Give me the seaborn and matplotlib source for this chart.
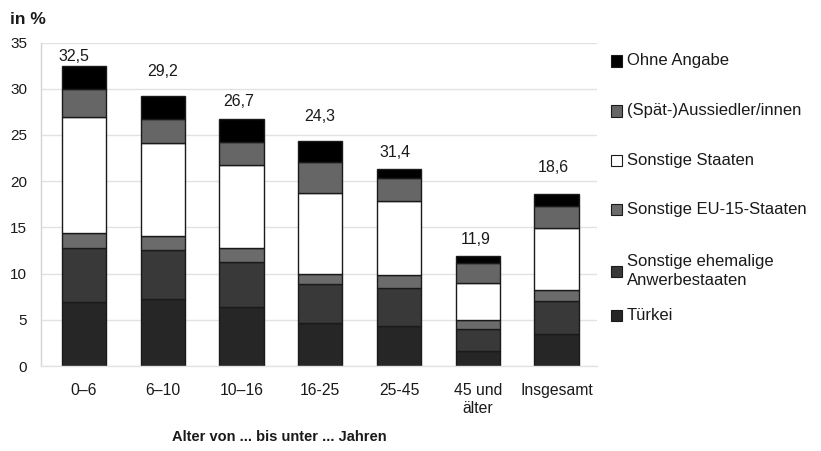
import matplotlib
matplotlib.use("Agg")
import matplotlib.pyplot as plt
from matplotlib.patches import Rectangle
import numpy as np
import seaborn as sns

# Altersgruppen
categories = ["0–6", "6–10", "10–16", "16-25", "25-45", "45 und\nälter", "Insgesamt"]

# Anteile je Herkunftsgruppe in %, von unten nach oben gestapelt
tuerkei = [6.9, 7.2, 6.4, 4.6, 4.3, 1.6, 3.5]
anwerbestaaten = [5.9, 5.3, 4.9, 4.3, 4.1, 2.4, 3.5]
eu15 = [1.6, 1.6, 1.5, 1.1, 1.4, 1.0, 1.2]
sonstige_staaten = [12.5, 10.0, 8.9, 8.7, 8.1, 4.0, 6.7]
spaetaussiedler = [3.1, 2.6, 2.5, 3.4, 2.4, 2.1, 2.4]
ohne_angabe = [2.5, 2.5, 2.5, 2.2, 1.0, 0.8, 1.3]

# Beschriftungen über den Säulen
total_labels = ["32,5", "29,2", "26,7", "24,3", "31,4", "11,9", "18,6"]

series_names = ["Türkei", "Sonstige ehemalige\nAnwerbestaaten", "Sonstige EU-15-Staaten",
                "Sonstige Staaten", "(Spät-)Aussiedler/innen", "Ohne Angabe"]
series_values = [tuerkei, anwerbestaaten, eu15, sonstige_staaten, spaetaussiedler, ohne_angabe]
series_colors = ["#262626", "#393939", "#6b6b6b", "#ffffff", "#666666", "#000000"]

y_ticks = [0, 5, 10, 15, 20, 25, 30, 35]

sns.set_theme(style="white")
plt.rcParams["font.family"] = ["Liberation Sans", "DejaVu Sans"]

W, H = 821, 451
fig = plt.figure(figsize=(W / 100, H / 100), dpi=100)
ax_left, ax_right, ax_bottom, ax_top = 41, 597, 366, 42.5
ax = fig.add_axes([ax_left / W, 1 - ax_bottom / H, (ax_right - ax_left) / W, (ax_bottom - ax_top) / H])

text_col = "#1a1a1a"
edge = "#1a1a1a"
bottom = np.zeros(len(categories))
for name, vals, col in zip(series_names, series_values, series_colors):
    sns.barplot(x=categories, y=vals, order=categories, bottom=bottom, color=col,
                edgecolor=edge, linewidth=1.0, width=0.56, errorbar=None,
                saturation=1, ax=ax)
    bottom = bottom + np.array(vals)

ax.set_xlim(-0.546, 6.514)
ax.set_ylim(0, 35)
ax.set_yticks(y_ticks)
ax.set_yticklabels([str(t) for t in y_ticks])
ax.yaxis.grid(True, color="#e2e2e2", linewidth=1.0)
ax.set_axisbelow(True)
for s in ["top", "right"]:
    ax.spines[s].set_visible(False)
ax.spines["left"].set_color("#d4d4d4")
ax.spines["bottom"].set_color("#e2e2e2")
ax.spines["left"].set_linewidth(1.0)
ax.spines["bottom"].set_linewidth(1.0)
ax.tick_params(axis="y", length=0, pad=10, labelsize=11, labelcolor=text_col)
ax.tick_params(axis="x", length=0, pad=12, labelsize=11.3, labelcolor=text_col)
for lbl in ax.get_xticklabels():
    lbl.set_linespacing(1.3)
ax.set_xlabel("")
ax.set_ylabel("")

# Summenwerte über den Säulen
label_dx = [-10, 0, -3, -1, -4, -2, -3]
label_dy = [9, 25, 18, 25, 17, 17, 27]
for i, txt in enumerate(total_labels):
    ax.annotate(txt, (i, bottom[i]), xytext=(label_dx[i], label_dy[i]),
                textcoords="offset pixels", ha="center", va="center",
                fontsize=11.5, color=text_col)

fig.text(10 / W, 1 - 20 / H, "in %", fontsize=12.5, fontweight="bold", va="center", ha="left",
         color=text_col)
fig.text(279 / W, 1 - 437 / H, "Alter von ... bis unter ... Jahren", fontsize=10.5,
         fontweight="bold", va="center", ha="center", color=text_col)

# Legende rechts, von oben nach unten
legend_rows = [(5, 61), (4, 111), (3, 160), (2, 210), (1, 271), (0, 315)]
for idx, yc in legend_rows:
    fig.patches.append(Rectangle((611 / W, 1 - (yc + 5.5) / H), 11 / W, 11 / H,
                                 transform=fig.transFigure, facecolor=series_colors[idx],
                                 edgecolor=edge, linewidth=0.8))
    fig.text(627 / W, 1 - yc / H, series_names[idx], fontsize=12, va="center", ha="left",
             color=text_col, linespacing=1.4)

fig.savefig("out.png", dpi=100, facecolor="white")
